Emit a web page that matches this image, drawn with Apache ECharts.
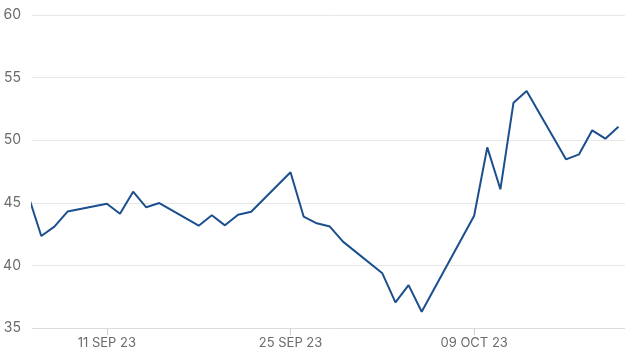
<!DOCTYPE html>
<html>
<head>
<meta charset="utf-8">
<script src="https://cdn.jsdelivr.net/npm/echarts@6/dist/echarts.min.js"></script>
<style>
  html, body { margin: 0; padding: 0; background: #fff; }
  #chart { width: 625px; height: 363px; }
</style>
</head>
<body>
<div id="chart"></div>
<script>
// Data (trading days)
const dates = [
  '2023-09-05','2023-09-06','2023-09-07','2023-09-08',
  '2023-09-11','2023-09-12','2023-09-13','2023-09-14','2023-09-15',
  '2023-09-18','2023-09-19','2023-09-20','2023-09-21','2023-09-22',
  '2023-09-25','2023-09-26','2023-09-27','2023-09-28','2023-09-29',
  '2023-10-02','2023-10-03','2023-10-04','2023-10-05',
  '2023-10-09','2023-10-10','2023-10-11','2023-10-12','2023-10-13',
  '2023-10-16','2023-10-17','2023-10-18','2023-10-19','2023-10-20'
];
const values = [
  45.6, 42.35, 43.1, 44.3,
  44.93, 44.13, 45.89, 44.64, 44.98,
  43.17, 44.0, 43.2, 44.05, 44.29,
  47.44, 43.9, 43.36, 43.1, 41.9,
  39.37, 37.05, 38.42, 36.3,
  43.97, 49.43, 46.08, 53.0, 53.93,
  48.47, 48.87, 50.79, 50.12, 51.08
];
const tickDates = ['2023-09-11', '2023-09-25', '2023-10-09'];
const yTicks = [35, 40, 45, 50, 55, 60];

function ts(s) {
  const p = s.split('-').map(Number);
  return new Date(p[0], p[1] - 1, p[2]).getTime();
}
const months = ['JAN','FEB','MAR','APR','MAY','JUN','JUL','AUG','SEP','OCT','NOV','DEC'];
function fmt(v) {
  const d = new Date(v);
  const dd = String(d.getDate()).padStart(2, '0');
  return dd + ' ' + months[d.getMonth()] + ' ' + String(d.getFullYear()).slice(2);
}

const seriesData = dates.map((d, i) => [ts(d), values[i]]);
const tickTs = tickDates.map(ts);
const H = 3600 * 1000;

const chart = echarts.init(document.getElementById('chart'), null, { renderer: 'canvas' });
chart.setOption({
  animation: false,
  grid: { left: 32, right: 0, top: 15, bottom: 35, containLabel: false },
  xAxis: {
    type: 'value',
    min: ts('2023-09-05') + 7 * H,
    max: ts('2023-10-20') + 12 * H,
    axisLine: { show: true, lineStyle: { color: '#dcdcdc', width: 1 } },
    axisTick: { show: true, customValues: tickTs, length: 7, lineStyle: { color: '#d0d0d0' } },
    axisLabel: {
      customValues: tickTs,
      formatter: fmt,
      color: '#6b6b6b',
      fontFamily: 'Inter',
      fontSize: 13,
      margin: 9
    },
    splitLine: { show: false }
  },
  yAxis: {
    type: 'value',
    min: yTicks[0],
    max: yTicks[yTicks.length - 1],
    interval: 5,
    axisLine: { show: false },
    axisTick: { show: false },
    axisLabel: {
      color: '#6b6b6b',
      fontFamily: 'Inter',
      fontSize: 14,
      margin: 11
    },
    splitLine: { show: true, lineStyle: { color: '#e8e8e8', width: 1 } }
  },
  series: [{
    type: 'line',
    data: seriesData,
    showSymbol: false,
    symbol: 'none',
    clip: true,
    lineStyle: { color: '#1b4f8d', width: 2 },
    itemStyle: { color: '#1b4f8d' }
  }]
});
</script>
</body>
</html>
